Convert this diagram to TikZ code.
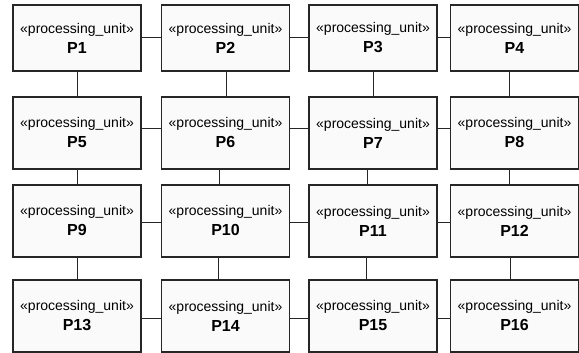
\documentclass[tikz,border=0pt]{standalone}
\usepackage{fontspec}
\setmainfont{Liberation Sans}
\tikzset{
  pu/.style={draw=black!85, line width=1.1pt, fill=black!2, minimum width=128pt,
    minimum height=72pt, inner sep=0pt, outer sep=0pt, align=center,
    font=\fontsize{14}{20}\selectfont},
  conn/.style={draw=black!85, line width=1pt}
}
\newcommand{\pubox}[1]{«processing\_unit»\\{\fontsize{16}{20}\selectfont\bfseries #1}}
\begin{document}
\begin{tikzpicture}[x=1pt,y=-1pt]
\useasboundingbox (0,0) rectangle (579,353);
% row 1
\node[pu, minimum height=66pt] (P1) at (77,38) {\pubox{P1}};
\node[pu, minimum height=66pt] (P2) at (225.5,38) {\pubox{P2}};
\node[pu, minimum height=66pt] (P3) at (373,38) {\pubox{P3}};
\node[pu, minimum height=66pt] (P4) at (514.5,38) {\pubox{P4}};
% row 2
\node[pu] (P5) at (77,133) {\pubox{P5}};
\node[pu] (P6) at (225.5,133) {\pubox{P6}};
\node[pu] (P7) at (373,133) {\pubox{P7}};
\node[pu] (P8) at (514.5,133) {\pubox{P8}};
% row 3
\node[pu] (P9) at (77,221) {\pubox{P9}};
\node[pu] (P10) at (225.5,221) {\pubox{P10}};
\node[pu] (P11) at (373,221) {\pubox{P11}};
\node[pu] (P12) at (514.5,221) {\pubox{P12}};
% row 4
\node[pu] (P13) at (77,316) {\pubox{P13}};
\node[pu] (P14) at (225.5,316) {\pubox{P14}};
\node[pu] (P15) at (373,316) {\pubox{P15}};
\node[pu] (P16) at (514.5,316) {\pubox{P16}};
% horizontal connectors
\draw[conn] (P1.east) -- (P2.west);
\draw[conn] (P2.east) -- (P3.west);
\draw[conn] (P3.east) -- (P4.west);
\draw[conn] ([yshift=4pt]P5.east) -- ([yshift=4pt]P6.west);
\draw[conn] ([yshift=4pt]P6.east) -- ([yshift=4pt]P7.west);
\draw[conn] ([yshift=4pt]P7.east) -- ([yshift=4pt]P8.west);
\draw[conn] ([yshift=-1pt]P9.east) -- ([yshift=-1pt]P10.west);
\draw[conn] ([yshift=-1pt]P10.east) -- ([yshift=-1pt]P11.west);
\draw[conn] ([yshift=-1pt]P11.east) -- ([yshift=-1pt]P12.west);
\draw[conn] ([yshift=-2.5pt]P13.east) -- ([yshift=-2.5pt]P14.west);
\draw[conn] ([yshift=-2.5pt]P14.east) -- ([yshift=-2.5pt]P15.west);
\draw[conn] ([yshift=-2.5pt]P15.east) -- ([yshift=-2.5pt]P16.west);
% vertical connectors
\draw[conn] (P1.south) -- (P5.north);
\draw[conn] (P5.south) -- (P9.north);
\draw[conn] (P9.south) -- (P13.north);
\draw[conn] ([xshift=0.5pt]P2.south) -- ([xshift=0.5pt]P6.north);
\draw[conn] ([xshift=-6.5pt]P6.south) -- ([xshift=-6.5pt]P10.north);
\draw[conn] ([xshift=-7.5pt]P10.south) -- ([xshift=-7.5pt]P14.north);
\draw[conn] (P3.south) -- (P7.north);
\draw[conn] ([xshift=-6pt]P7.south) -- ([xshift=-6pt]P11.north);
\draw[conn] ([xshift=-7pt]P11.south) -- ([xshift=-7pt]P15.north);
\draw[conn] ([xshift=-5.5pt]P4.south) -- ([xshift=-5.5pt]P8.north);
\draw[conn] ([xshift=-5.5pt]P8.south) -- ([xshift=-5.5pt]P12.north);
\draw[conn] ([xshift=-4.5pt]P12.south) -- ([xshift=-4.5pt]P16.north);
\end{tikzpicture}
\end{document}
